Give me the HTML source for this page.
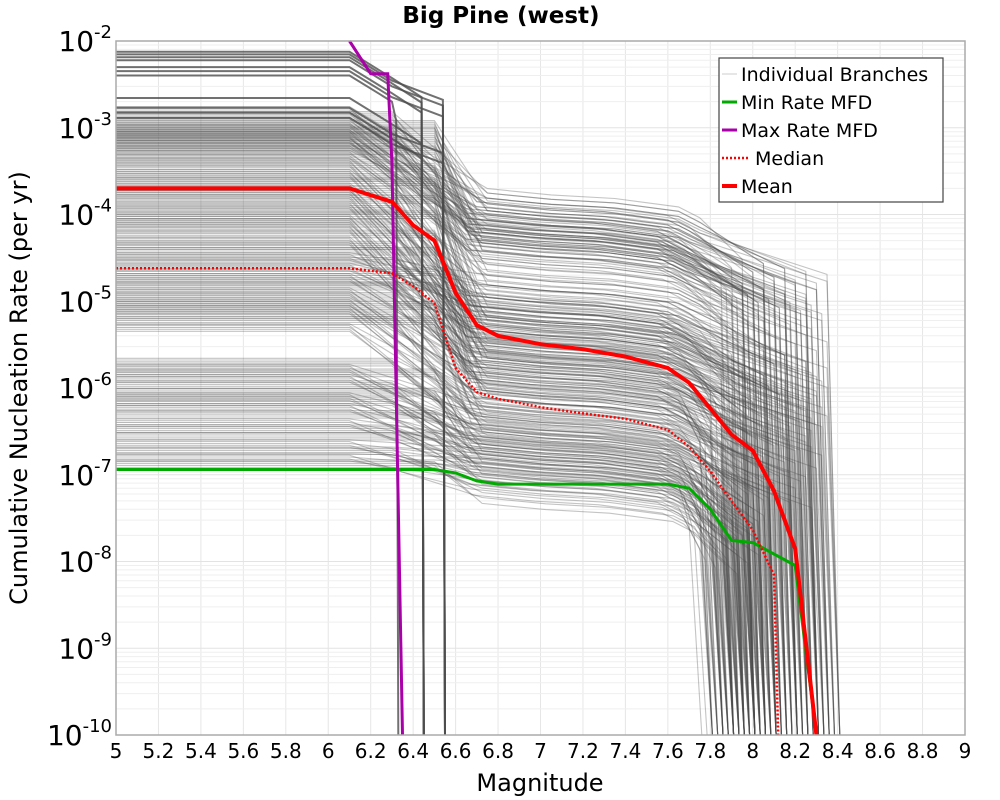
<!DOCTYPE html>
<html><head><meta charset="utf-8">
<style>
html,body{margin:0;padding:0;background:#fff;}
svg{display:block;font-family:"DejaVu Sans","Liberation Sans",sans-serif;}
</style></head>
<body>
<svg id="chart" width="1000" height="800" viewBox="0 0 1000 800" xmlns="http://www.w3.org/2000/svg">
<rect x="0" y="0" width="1000" height="800" fill="#fff"/>
<text x="501" y="23" text-anchor="middle" font-size="23" font-weight="bold">Big Pine (west)</text>
<g id="grid"></g>
<g id="branches"></g>
<g id="series"></g>
<rect x="116" y="41" width="849" height="694" fill="none" stroke="#aaa" stroke-width="1.5"/>
<g id="axes"></g>
<text x="540" y="791" text-anchor="middle" font-size="24">Magnitude</text>
<text transform="translate(27,388) rotate(-90)" text-anchor="middle" font-size="24">Cumulative Nucleation Rate (per yr)</text>
<g>
<rect x="719" y="58" width="224" height="144" fill="#fff" stroke="#444" stroke-width="1.2"/>
<g><line x1="722" y1="74" x2="737" y2="74" stroke="#ccc" stroke-width="1"/><text x="741" y="81" font-size="19">Individual Branches</text></g>
<g><line x1="722" y1="102" x2="737" y2="102" stroke="#00aa00" stroke-width="3"/><text x="741" y="109" font-size="19">Min Rate MFD</text></g>
<g><line x1="722" y1="130" x2="737" y2="130" stroke="#aa00aa" stroke-width="3"/><text x="741" y="137" font-size="19">Max Rate MFD</text></g>
<g><line x1="722" y1="158" x2="750" y2="158" stroke="#f00" stroke-width="2.5" stroke-dasharray="2,2"/><text x="755" y="165" font-size="19">Median</text></g>
<g><line x1="722" y1="186" x2="737" y2="186" stroke="#f00" stroke-width="4"/><text x="741" y="193" font-size="19">Mean</text></g>
</g>
</svg>
<script>
// ---- data ----
const xTicks = [5,5.2,5.4,5.6,5.8,6,6.2,6.4,6.6,6.8,7,7.2,7.4,7.6,7.8,8,8.2,8.4,8.6,8.8,9];
const yTickExps = [-2,-3,-4,-5,-6,-7,-8,-9,-10];
const meanMags  = [5,6.1,6.3,6.4,6.5,6.6,6.7,6.8,7.0,7.2,7.4,7.6,7.7,7.8,7.9,8.0,8.1,8.2,8.3];
const meanRates = [2e-4,2e-4,1.4e-4,7.5e-5,5e-5,1.25e-5,5.3e-6,4e-6,3.2e-6,2.8e-6,2.3e-6,1.7e-6,1.15e-6,5.8e-7,2.9e-7,1.9e-7,6.5e-8,1.4e-8,1e-10];
const medianMags  = [5,6.1,6.3,6.4,6.5,6.6,6.7,6.8,7.0,7.2,7.4,7.6,7.7,7.8,7.9,8.0,8.1,8.12];
const medianRates = [2.4e-5,2.4e-5,2.1e-5,1.5e-5,9.5e-6,1.7e-6,9e-7,7.5e-7,6e-7,5.1e-7,4.4e-7,3.3e-7,2.1e-7,1.1e-7,5e-8,2.3e-8,7e-9,1e-10];
const minMags  = [5,6.5,6.6,6.7,6.8,7.6,7.7,7.8,7.9,8.0,8.2,8.3];
const minRates = [1.15e-7,1.15e-7,1.05e-7,8.5e-8,7.8e-8,7.8e-8,7e-8,4e-8,1.75e-8,1.65e-8,9e-9,1e-10];
const maxMags  = [6.1,6.2,6.28,6.3,6.35];
const maxRates = [1e-2,4.2e-3,4.2e-3,4e-4,1e-10];
const highRates = [7.5e-3,7e-3,6.5e-3,6e-3,5e-3,4.5e-3,4e-3,2.2e-3,1.7e-3,1.5e-3,1.3e-3];
const highDrops = [6.44,6.54,6.44,6.54,6.44,6.54,6.32,6.44,6.54,6.44,6.54];
const startRates = [1.6e-3,1.4e-3,1.2e-3,1.1e-3,1e-3,9.5e-4,9e-4,8.5e-4,8e-4,7.5e-4,7e-4,6.5e-4,6e-4,5.5e-4,5e-4,4.5e-4,4e-4,3.5e-4,3e-4,2.7e-4,
 2.4e-4,2.1e-4,1.9e-4,1.7e-4,1.5e-4,1.3e-4,1.15e-4,1e-4,9e-5,8e-5,7e-5,6e-5,5e-5,4.4e-5,3.8e-5,3.3e-5,2.9e-5,2.5e-5,2.2e-5,1.9e-5,
 1.7e-5,1.5e-5,1.3e-5,1.15e-5,1e-5,9e-6,8e-6,7e-6,6e-6,5e-6,
 2e-6,1.7e-6,1.5e-6,1.3e-6,1.1e-6,9e-7,8e-7,7e-7,6e-7,5e-7,4e-7,3.4e-7,2.8e-7,2.3e-7,1.9e-7,1.6e-7,1.35e-7];
const plateauRates = [9e-5,8e-5,7e-5,6.5e-5,6e-5,5.5e-5,5e-5,4.5e-5,4e-5,3.5e-5,8e-5,7e-5,6e-5,5e-5,4e-5,3e-5,1.2e-5,1e-5,9e-6,8e-6,
 7e-6,6e-6,5e-6,4.5e-6,4e-6,3.5e-6,3e-6,2.7e-6,2.4e-6,2.1e-6,1.8e-6,1.6e-6,1.4e-6,1.2e-6,1e-6,9e-6,7e-6,5e-6,3e-6,2e-6,
 1.5e-6,1.2e-6,1e-6,8e-7,7e-7,6e-7,5e-7,4.5e-7,4e-7,3.5e-7,
 3e-7,2.7e-7,2.4e-7,2.2e-7,2e-7,1.8e-7,1.6e-7,1.5e-7,1.4e-7,1.3e-7,1.2e-7,1.1e-7,1e-7,9e-8,8e-8,7e-8,6e-8];
const dropMags = [7.9,8.0,8.1,8.2,8.3,7.95,8.05,8.15,8.25,7.9,8.0,8.1,8.2,8.3,8.0,8.1,8.2,8.3,7.9,8.0,
 8.1,8.2,8.3,7.85,7.95,8.05,8.15,8.25,7.9,8.0,8.1,8.2,8.3,7.8,7.9,8.0,8.1,8.2,8.3,7.95,
 7.8,7.9,8.0,8.1,8.2,7.85,7.95,8.05,8.15,8.25,
 7.8,7.9,8.0,7.85,7.95,7.8,7.9,8.0,7.85,7.75,7.8,7.9,8.0,7.85,7.95,7.8,7.9];
const flatEnds = [6.1,6.3,6.1,6.5,6.1,6.3,6.5];
const spreadFactors = [1,0.75,1.35,0.6,1.7];

// ---- axes ----
const X0=116, X1=965, Y0=41, Y1=735;
function xs(m){ return X0 + (m-5)/(9-5)*(X1-X0); }
function ys(v){ const l=Math.log10(v); return Y0 + (-2 - l)/8*(Y1-Y0); }
const NS="http://www.w3.org/2000/svg";
function mk(tag, attrs, parent){ const e=document.createElementNS(NS,tag); for(const k in attrs) e.setAttribute(k,attrs[k]); parent.appendChild(e); return e; }
function pathD(ms, rs){ return ms.map((m,i)=>(i?'L':'M')+xs(m).toFixed(1)+','+ys(Math.max(rs[i],1e-10)).toFixed(1)).join(' '); }

const grid=document.getElementById('grid');
xTicks.forEach(t=>{ const l=mk('line',{x1:xs(t),x2:xs(t),y1:Y0,y2:Y1,stroke:'#e6e6e6','stroke-width':1},grid);
 
  });
for(let e=-10;e<-2;e++){ for(let k=1;k<10;k++){ const y=ys(k*Math.pow(10,e));
 const l=mk('line',{x1:X0,x2:X1,y1:y,y2:y,stroke:k===1?'#e3e3e3':'#efefef','stroke-width':1},grid);
 
  } }

const axes=document.getElementById('axes');
xTicks.forEach(t=>{ const tx=mk('text',{x:xs(t),y:758,'text-anchor':'middle','font-size':20},axes); tx.textContent=String(t);
 
  });
yTickExps.forEach(e=>{ const y=ys(Math.pow(10,e)); const tx=mk('text',{x:112,y:y+10,'text-anchor':'end','font-size':28},axes);
 
 
 const a=document.createElementNS(NS,'tspan'); a.textContent='10'; tx.appendChild(a);
 const b=document.createElementNS(NS,'tspan'); b.setAttribute('dy','-13'); b.setAttribute('font-size','18'); b.textContent=String(e); tx.appendChild(b); });

// ---- branches ----
const br=document.getElementById('branches');
highRates.forEach((r,i)=>{ const d=highDrops[i];
 const p=mk('path',{d:pathD([5,6.1,6.3,d,d+0.01],[r,r,r*0.5,r*0.3,1e-10]),fill:'none',stroke:'#4d4d4d','stroke-opacity':0.8,'stroke-width':2},br);
 
  });
startRates.forEach((s,i)=>{ const p0=plateauRates[i], d=dropMags[i], fe=flatEnds[i%flatEnds.length];
 const ms=[5,fe,6.7,7.0,7.3,7.6,7.7,d,d+0.06];
 const rs=[s,s,p0*1.3,p0*1.1,p0,p0*0.8,p0*0.6,p0*0.2,1e-10];
 spreadFactors.forEach((f,k)=>{
  const shift=(k-2)*0.025;
  const p=mk('path',{d:pathD(ms.map((m,j)=>j>1?m+shift:m),rs.map((r,j)=>j>=2&&j<8?r*f:(j<2?r*(1+(k-2)*0.05):r))),fill:'none',stroke:'#4d4d4d','stroke-opacity':0.33,'stroke-width':1.1},br);
  
  
 });
});

// ---- summary series ----
const sr=document.getElementById('series');
let p;
p=mk('path',{d:pathD(minMags,minRates),fill:'none',stroke:'#00aa00','stroke-width':3},sr);


p=mk('path',{d:pathD(maxMags,maxRates),fill:'none',stroke:'#aa00aa','stroke-width':3},sr);


p=mk('path',{d:pathD(medianMags,medianRates),fill:'none',stroke:'#ff0000','stroke-width':2.5,'stroke-dasharray':'2,2'},sr);


p=mk('path',{d:pathD(meanMags,meanRates),fill:'none',stroke:'#ff0000','stroke-width':4},sr);


</script>
</body></html>
